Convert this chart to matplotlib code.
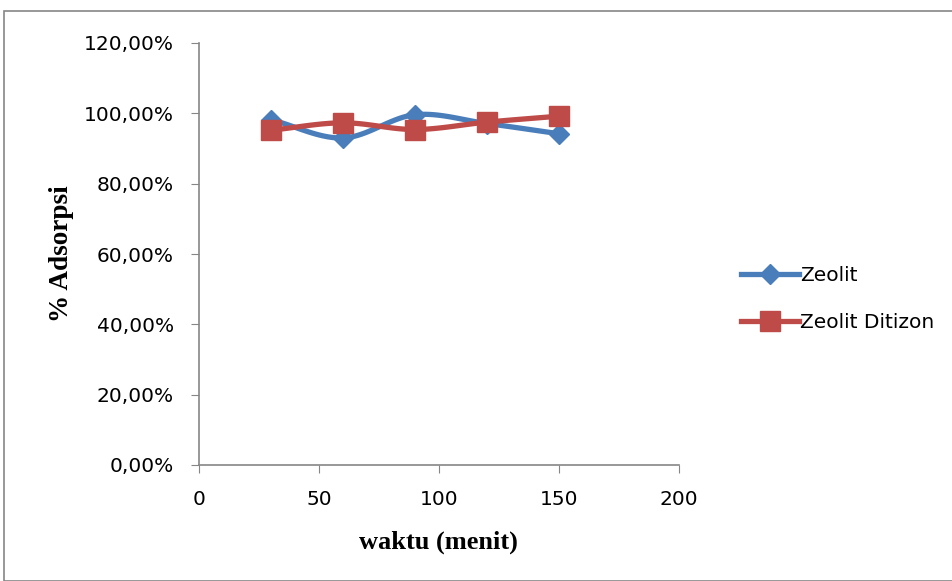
import numpy as np
import matplotlib
matplotlib.use("Agg")
import matplotlib.pyplot as plt
from matplotlib.patches import Rectangle
from matplotlib.ticker import FuncFormatter

# data
waktu = [30, 60, 90, 120, 150]
zeolit = [98.2, 93.0, 99.6, 97.1, 94.2]
zeolit_ditizon = [95.2, 97.3, 95.4, 97.5, 99.2]


def smooth(x, y, n=30):
    # catmull-rom style smoothing like Excel's smoothed line
    x = np.asarray(x, float)
    y = np.asarray(y, float)
    px = np.concatenate([[2 * x[0] - x[1]], x, [2 * x[-1] - x[-2]]])
    py = np.concatenate([[2 * y[0] - y[1]], y, [2 * y[-1] - y[-2]]])
    xs, ys = [], []
    t = np.linspace(0, 1, n)
    for i in range(1, len(px) - 2):
        p0, p1, p2, p3 = px[i - 1:i + 3]
        q0, q1, q2, q3 = py[i - 1:i + 3]
        bx = [p1, p1 + (p2 - p0) / 6, p2 - (p3 - p1) / 6, p2]
        by = [q1, q1 + (q2 - q0) / 6, q2 - (q3 - q1) / 6, q2]
        for b, out in ((bx, xs), (by, ys)):
            out.extend((1 - t) ** 3 * b[0] + 3 * (1 - t) ** 2 * t * b[1]
                       + 3 * (1 - t) * t ** 2 * b[2] + t ** 3 * b[3])
    return np.array(xs), np.array(ys)


blue = '#4a7ebb'
red = '#be4b48'
tickfont = 'DejaVu Sans'

fig = plt.figure(figsize=(9.53, 5.81), dpi=100)
fig.patches.append(Rectangle((4 / 953, 0), 1, 1 - 11 / 581, transform=fig.transFigure,
                             fill=False, edgecolor='#868686', linewidth=1.2))
ax = fig.add_axes([199 / 953, 1 - 465 / 581, 480 / 953, 422 / 581])

for y, c, m, ms, lab in ((zeolit, blue, 'D', 10, 'Zeolit'),
                         (zeolit_ditizon, red, 's', 14, 'Zeolit Ditizon')):
    sx, sy = smooth(waktu, y)
    ax.plot(sx, sy, color=c, linewidth=3.8, solid_capstyle='round')
    ax.plot(waktu, y, linestyle='none', marker=m, markersize=ms, color=c)
    ax.plot([], [], color=c, linewidth=3.8, marker=m, markersize=ms, label=lab)

ax.set_xlim(0, 200)
ax.set_ylim(0, 120)
ax.set_xticks([0, 50, 100, 150, 200])
ax.set_yticks(np.arange(0, 121, 20))
ax.yaxis.set_major_formatter(FuncFormatter(lambda v, p: f'{v:.2f}%'.replace('.', ',')))
for s in ['top', 'right']:
    ax.spines[s].set_visible(False)
for s in ['left', 'bottom']:
    ax.spines[s].set_color('#868686')
    ax.spines[s].set_linewidth(1.2)
ax.tick_params(direction='out', length=6, color='#868686', labelsize=14.5)
ax.tick_params(axis='y', pad=12)
ax.tick_params(axis='x', pad=12)
for t in ax.get_xticklabels() + ax.get_yticklabels():
    t.set_family(tickfont)

ax.set_xlabel('waktu (menit)', fontfamily='Liberation Serif', fontweight='bold',
              fontsize=19)
ax.set_ylabel('% Adsorpsi', fontfamily='Liberation Serif', fontweight='bold',
              fontsize=19.5)
ax.xaxis.set_label_coords(239 / 480, -(542 - 465) / 422)
ax.yaxis.set_label_coords(-(199 - 62) / 480, 0.5)
ax.xaxis.label.set_va('center')
ax.yaxis.label.set_va('center')

fig.legend(loc='center left', bbox_to_anchor=(733 / 953, 1 - 299 / 581), frameon=False,
           prop={'family': tickfont, 'size': 14.5}, handlelength=2.9, handletextpad=0.05,
           labelspacing=1.35, borderaxespad=0)

fig.savefig('out.png', dpi=100)
